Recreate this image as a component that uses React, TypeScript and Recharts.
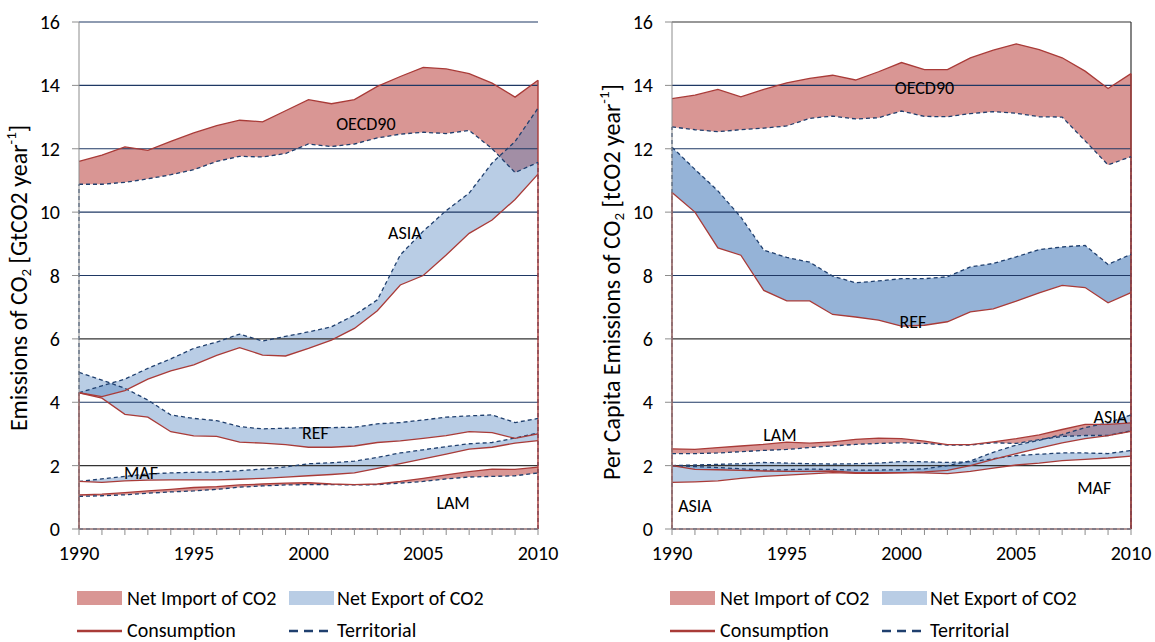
import React from 'react';
import { ComposedChart, Area, Line, XAxis, YAxis, ReferenceLine, ReferenceDot } from 'recharts';

// ---------- categories / ticks ----------
const YEARS = [1990, 1991, 1992, 1993, 1994, 1995, 1996, 1997, 1998, 1999, 2000, 2001, 2002, 2003, 2004, 2005, 2006, 2007, 2008, 2009, 2010];
const Y_TICKS = [0, 2, 4, 6, 8, 10, 12, 14, 16];
const X_LABEL_YEARS = [1990, 1995, 2000, 2005, 2010];

// ---------- total emissions (GtCO2/yr) ----------
const TOT_OECD90_CONS = [11.6, 11.8, 12.06, 11.95, 12.23, 12.5, 12.73, 12.9, 12.85, 13.2, 13.55, 13.42, 13.55, 13.97, 14.28, 14.57, 14.52, 14.37, 14.07, 13.63, 14.16];
const TOT_OECD90_TERR = [10.88, 10.88, 10.94, 11.05, 11.18, 11.34, 11.6, 11.76, 11.74, 11.85, 12.15, 12.07, 12.15, 12.34, 12.46, 12.52, 12.48, 12.58, 12.0, 11.25, 11.57];
const TOT_ASIA_CONS = [4.3, 4.18, 4.37, 4.73, 4.99, 5.18, 5.48, 5.72, 5.49, 5.46, 5.7, 5.96, 6.33, 6.89, 7.7, 8.0, 8.65, 9.33, 9.75, 10.4, 11.2];
const TOT_ASIA_TERR = [4.3, 4.52, 4.73, 5.07, 5.37, 5.7, 5.9, 6.15, 5.93, 6.08, 6.22, 6.38, 6.75, 7.23, 8.65, 9.4, 10.05, 10.6, 11.55, 12.23, 13.28];
const TOT_REF_CONS = [4.3, 4.13, 3.62, 3.53, 3.07, 2.94, 2.92, 2.74, 2.71, 2.66, 2.58, 2.58, 2.62, 2.73, 2.78, 2.86, 2.95, 3.07, 3.04, 2.86, 3.0];
const TOT_REF_TERR = [4.94, 4.7, 4.44, 4.07, 3.6, 3.49, 3.42, 3.23, 3.16, 3.18, 3.2, 3.2, 3.21, 3.32, 3.36, 3.44, 3.53, 3.57, 3.6, 3.36, 3.49];
const TOT_MAF_CONS = [1.5, 1.47, 1.52, 1.54, 1.55, 1.55, 1.55, 1.57, 1.6, 1.64, 1.68, 1.72, 1.77, 1.91, 2.06, 2.21, 2.36, 2.52, 2.58, 2.71, 2.79];
const TOT_MAF_TERR = [1.5, 1.58, 1.66, 1.74, 1.77, 1.79, 1.8, 1.84, 1.89, 1.96, 2.06, 2.09, 2.14, 2.26, 2.4, 2.5, 2.6, 2.69, 2.73, 2.87, 3.03];
const TOT_LAM_CONS = [1.08, 1.1, 1.15, 1.2, 1.25, 1.31, 1.34, 1.39, 1.42, 1.45, 1.46, 1.42, 1.4, 1.42, 1.5, 1.6, 1.71, 1.81, 1.89, 1.88, 1.95];
const TOT_LAM_TERR = [1.03, 1.05, 1.08, 1.13, 1.17, 1.2, 1.25, 1.32, 1.36, 1.39, 1.4, 1.4, 1.39, 1.4, 1.45, 1.5, 1.58, 1.64, 1.66, 1.68, 1.77];

// ---------- per capita emissions (tCO2/yr) ----------
const PC_OECD90_CONS = [13.58, 13.69, 13.87, 13.64, 13.87, 14.08, 14.22, 14.32, 14.17, 14.43, 14.72, 14.5, 14.5, 14.87, 15.11, 15.31, 15.13, 14.87, 14.45, 13.9, 14.37];
const PC_OECD90_TERR = [12.69, 12.6, 12.54, 12.6, 12.65, 12.72, 12.96, 13.03, 12.94, 12.98, 13.19, 13.02, 13.01, 13.11, 13.17, 13.12, 13.01, 13.0, 12.25, 11.49, 11.75];
const PC_REF_CONS = [10.62, 10.0, 8.87, 8.64, 7.53, 7.2, 7.2, 6.77, 6.69, 6.59, 6.4, 6.43, 6.54, 6.85, 6.95, 7.19, 7.45, 7.69, 7.62, 7.14, 7.46];
const PC_REF_TERR = [12.05, 11.35, 10.67, 9.84, 8.8, 8.57, 8.42, 7.98, 7.77, 7.83, 7.9, 7.9, 7.96, 8.27, 8.38, 8.59, 8.82, 8.9, 8.95, 8.35, 8.67];
const PC_LAM_CONS = [2.53, 2.51, 2.57, 2.62, 2.67, 2.74, 2.71, 2.75, 2.83, 2.87, 2.85, 2.77, 2.66, 2.66, 2.75, 2.85, 2.97, 3.14, 3.3, 3.3, 3.35];
const PC_LAM_TERR = [2.38, 2.38, 2.4, 2.44, 2.48, 2.51, 2.57, 2.62, 2.67, 2.7, 2.72, 2.7, 2.65, 2.65, 2.72, 2.7, 2.82, 2.92, 2.95, 2.95, 3.1];
const PC_ASIA_CONS = [1.47, 1.49, 1.52, 1.6, 1.66, 1.7, 1.74, 1.78, 1.76, 1.76, 1.77, 1.8, 1.85, 2.0, 2.2, 2.38, 2.55, 2.72, 2.85, 2.95, 3.08];
const PC_ASIA_TERR = [2.0, 1.97, 1.94, 1.9, 1.86, 1.87, 1.89, 1.88, 1.86, 1.86, 1.87, 1.9, 2.0, 2.15, 2.42, 2.65, 2.8, 2.98, 3.2, 3.35, 3.6];
const PC_MAF_CONS = [2.0, 1.88, 1.87, 1.85, 1.83, 1.82, 1.82, 1.83, 1.78, 1.78, 1.78, 1.77, 1.75, 1.82, 1.92, 2.02, 2.08, 2.16, 2.2, 2.24, 2.3];
const PC_MAF_TERR = [2.0, 2.02, 2.04, 2.06, 2.1, 2.08, 2.06, 2.05, 2.06, 2.08, 2.13, 2.12, 2.1, 2.12, 2.22, 2.32, 2.36, 2.4, 2.4, 2.38, 2.48];

// ---------- region labels (text, year, value) ----------
const TOT_LABELS = [
  { text: 'OECD90', x: 2002.5, y: 12.8 },
  { text: 'ASIA', x: 2004.2, y: 9.34 },
  { text: 'REF', x: 2000.3, y: 3.03 },
  { text: 'MAF', x: 1992.7, y: 1.77 },
  { text: 'LAM', x: 2006.3, y: 0.82 },
];
const PC_LABELS = [
  { text: 'OECD90', x: 2001.0, y: 13.92 },
  { text: 'REF', x: 2000.5, y: 6.55 },
  { text: 'LAM', x: 1994.7, y: 2.97 },
  { text: 'ASIA', x: 2009.1, y: 3.54 },
  { text: 'MAF', x: 2008.4, y: 1.3 },
  { text: 'ASIA', x: 1991.0, y: 0.73 },
];

// ---------- styles ----------
const FONT = 'Carlito, Calibri, Lato, sans-serif';
const RED_FILL = '#C0504D';
const BLUE_FILL = '#4F81BD';
const CONS_COLOR = '#A93B38';
const TERR_COLOR = '#1F3F6E';
const GRID_NAVY = '#1F3864';
const GRID_DARK = '#333333';
const AXIS_GREY = '#8C8C8C';

type Region = { key: string; cons: number[]; terr: number[]; opacity?: number };

const TOT_REGIONS: Region[] = [
  { key: 'OECD90', cons: TOT_OECD90_CONS, terr: TOT_OECD90_TERR },
  { key: 'ASIA', cons: TOT_ASIA_CONS, terr: TOT_ASIA_TERR },
  { key: 'REF', cons: TOT_REF_CONS, terr: TOT_REF_TERR },
  { key: 'MAF', cons: TOT_MAF_CONS, terr: TOT_MAF_TERR },
  { key: 'LAM', cons: TOT_LAM_CONS, terr: TOT_LAM_TERR },
];
const PC_REGIONS: Region[] = [
  { key: 'OECD90', cons: PC_OECD90_CONS, terr: PC_OECD90_TERR },
  { key: 'REF', cons: PC_REF_CONS, terr: PC_REF_TERR, opacity: 0.6 },
  { key: 'LAM', cons: PC_LAM_CONS, terr: PC_LAM_TERR },
  { key: 'ASIA', cons: PC_ASIA_CONS, terr: PC_ASIA_TERR },
  { key: 'MAF', cons: PC_MAF_CONS, terr: PC_MAF_TERR },
];

function buildRows(regions: Region[]) {
  return YEARS.map((year, i) => {
    const row: any = { year };
    regions.forEach((r) => {
      row[r.key + '_band'] = [r.terr[i], r.cons[i]];
      row[r.key + '_cons'] = r.cons[i];
      row[r.key + '_terr'] = r.terr[i];
    });
    return row;
  });
}

const CHART_W = 575;
const CHART_H = 642;
const MARGIN = { top: 22, right: 37, bottom: 83, left: 0 };
const YAXIS_W = 79;

function YLabel({ prefix, unit, cy }: { prefix: string; unit: string; cy: number }) {
  const cx = 21;
  return (
    <svg width={44} height={CHART_H} style={{ position: 'absolute', left: 0, top: 0 }}>
      <text
        x={cx}
        y={cy}
        transform={`rotate(-90, ${cx}, ${cy})`}
        textAnchor="middle"
        dominantBaseline="middle"
        fontFamily={FONT}
        fontSize={24}
        fill="#000"
      >
        {prefix}CO
        <tspan fontSize={15} dy={6}>2</tspan>
        <tspan dy={-6}>{` [${unit} year`}</tspan>
        <tspan fontSize={15} dy={-9}>-1</tspan>
        <tspan dy={9}>]</tspan>
      </text>
    </svg>
  );
}

function LegendBlock({ plotLeft }: { plotLeft: number }) {
  const txt: React.CSSProperties = { position: 'absolute', fontFamily: FONT, fontSize: 20, color: '#000', lineHeight: '22px', whiteSpace: 'nowrap' };
  return (
    <>
      <div style={{ position: 'absolute', left: plotLeft - 2, top: 591, width: 45, height: 14, background: RED_FILL, opacity: 0.6 }} />
      <div style={{ ...txt, left: plotLeft + 48, top: 587 }}>Net Import of CO2</div>
      <div style={{ position: 'absolute', left: plotLeft + 210, top: 591, width: 45, height: 14, background: BLUE_FILL, opacity: 0.4 }} />
      <div style={{ ...txt, left: plotLeft + 258, top: 587 }}>Net Export of CO2</div>
      <svg style={{ position: 'absolute', left: plotLeft - 2, top: 625 }} width={45} height={12}>
        <line x1={0} y1={6} x2={45} y2={6} stroke={CONS_COLOR} strokeWidth={2.5} />
      </svg>
      <div style={{ ...txt, left: plotLeft + 48, top: 619 }}>Consumption</div>
      <svg style={{ position: 'absolute', left: plotLeft + 210, top: 625 }} width={45} height={12}>
        <line x1={0} y1={6} x2={45} y2={6} stroke={TERR_COLOR} strokeWidth={2.5} strokeDasharray="9 6" />
      </svg>
      <div style={{ ...txt, left: plotLeft + 258, top: 619 }}>Territorial</div>
    </>
  );
}

function Panel({ regions, labels, prefix, unit, labelCy, frame }: {
  regions: Region[]; labels: { text: string; x: number; y: number }[]; prefix: string; unit: string; labelCy: number; frame: boolean;
}) {
  const rows = buildRows(regions);
  const first = 0;
  const last = YEARS.length - 1;
  const oecd = regions[0];
  const refRegion = regions.find((r) => r.key === 'REF') as Region;
  const gridColor = (v: number) => (v === 2 || v === 6 || (frame && v === 16) ? GRID_DARK : GRID_NAVY);
  return (
    <div style={{ position: 'relative', width: CHART_W, height: CHART_H }}>
      <ComposedChart width={CHART_W} height={CHART_H} data={rows} margin={MARGIN}>
        <XAxis
          dataKey="year"
          type="number"
          domain={[YEARS[0], YEARS[last]]}
          ticks={YEARS}
          interval={0}
          tickFormatter={(v: number) => (X_LABEL_YEARS.includes(v) ? String(v) : '')}
          tickSize={6}
          tickMargin={11}
          height={30}
          axisLine={{ stroke: AXIS_GREY }}
          tickLine={{ stroke: AXIS_GREY }}
          tick={{ fill: '#000', fontSize: 20, fontFamily: FONT }}
        />
        <YAxis
          type="number"
          domain={[0, 16]}
          ticks={Y_TICKS}
          interval={0}
          width={YAXIS_W}
          tickSize={7}
          tickMargin={12}
          axisLine={{ stroke: AXIS_GREY }}
          tickLine={{ stroke: AXIS_GREY }}
          tick={{ fill: '#000', fontSize: 20, fontFamily: FONT }}
        />
        {regions.map((r) => {
          const isImport = r.cons[last] >= r.terr[last];
          return (
            <Area
              key={r.key + '_band'}
              dataKey={r.key + '_band'}
              type="linear"
              stroke="none"
              fill={isImport ? RED_FILL : BLUE_FILL}
              fillOpacity={r.opacity ?? (isImport ? 0.6 : 0.4)}
              isAnimationActive={false}
              activeDot={false}
            />
          );
        })}
        {Y_TICKS.filter((v) => v > 0).map((v) => (
          <ReferenceLine key={'g' + v} y={v} stroke={gridColor(v)} strokeWidth={1.2} />
        ))}
        {frame && <ReferenceLine x={YEARS[last]} stroke={GRID_DARK} strokeWidth={1.2} />}
        <ReferenceLine y={0} stroke={CONS_COLOR} strokeWidth={1.2} />
        <ReferenceLine y={0} stroke={TERR_COLOR} strokeWidth={1.2} strokeDasharray="4 3" />
        <ReferenceLine segment={[{ x: YEARS[first], y: 0 }, { x: YEARS[first], y: oecd.terr[first] }]} stroke={TERR_COLOR} strokeWidth={1.2} strokeDasharray="4 3" />
        <ReferenceLine segment={[{ x: YEARS[last], y: 0 }, { x: YEARS[last], y: oecd.terr[last] }]} stroke={TERR_COLOR} strokeWidth={1.2} strokeDasharray="4 3" />
        <ReferenceLine segment={[{ x: YEARS[first], y: 0 }, { x: YEARS[first], y: refRegion.cons[first] }]} stroke={CONS_COLOR} strokeWidth={1.4} />
        <ReferenceLine segment={[{ x: YEARS[last], y: 0 }, { x: YEARS[last], y: oecd.cons[last] }]} stroke={CONS_COLOR} strokeWidth={1.4} />
        {regions.map((r) => (
          <Line
            key={r.key + '_terr'}
            dataKey={r.key + '_terr'}
            type="linear"
            stroke={TERR_COLOR}
            strokeWidth={1.3}
            strokeDasharray="4 3"
            dot={false}
            activeDot={false}
            isAnimationActive={false}
          />
        ))}
        {regions.map((r) => (
          <Line
            key={r.key + '_cons'}
            dataKey={r.key + '_cons'}
            type="linear"
            stroke={CONS_COLOR}
            strokeWidth={1.3}
            dot={false}
            activeDot={false}
            isAnimationActive={false}
          />
        ))}
        {labels.map((l, i) => (
          <ReferenceDot
            key={'lab' + i}
            x={l.x}
            y={l.y}
            r={0}
            fill="none"
            stroke="none"
            label={{ value: l.text, position: 'center', fill: '#000', fontSize: 18, fontFamily: FONT }}
          />
        ))}
      </ComposedChart>
      <YLabel prefix={prefix} unit={unit} cy={labelCy} />
    </div>
  );
}

export default function App() {
  return (
    <div style={{ position: 'absolute', left: 0, top: 0, width: 1155, height: 642, background: '#fff', overflow: 'hidden' }}>
      <div style={{ position: 'absolute', left: 0, top: 0 }}>
        <Panel regions={TOT_REGIONS} labels={TOT_LABELS} prefix="Emissions of " unit="GtCO2 " labelCy={278} frame={false} />
      </div>
      <div style={{ position: 'absolute', left: 593, top: 0 }}>
        <Panel regions={PC_REGIONS} labels={PC_LABELS} prefix="Per Capita Emissions of " unit="tCO2" labelCy={282} frame={true} />
      </div>
      <LegendBlock plotLeft={79} />
      <LegendBlock plotLeft={672} />
    </div>
  );
}
